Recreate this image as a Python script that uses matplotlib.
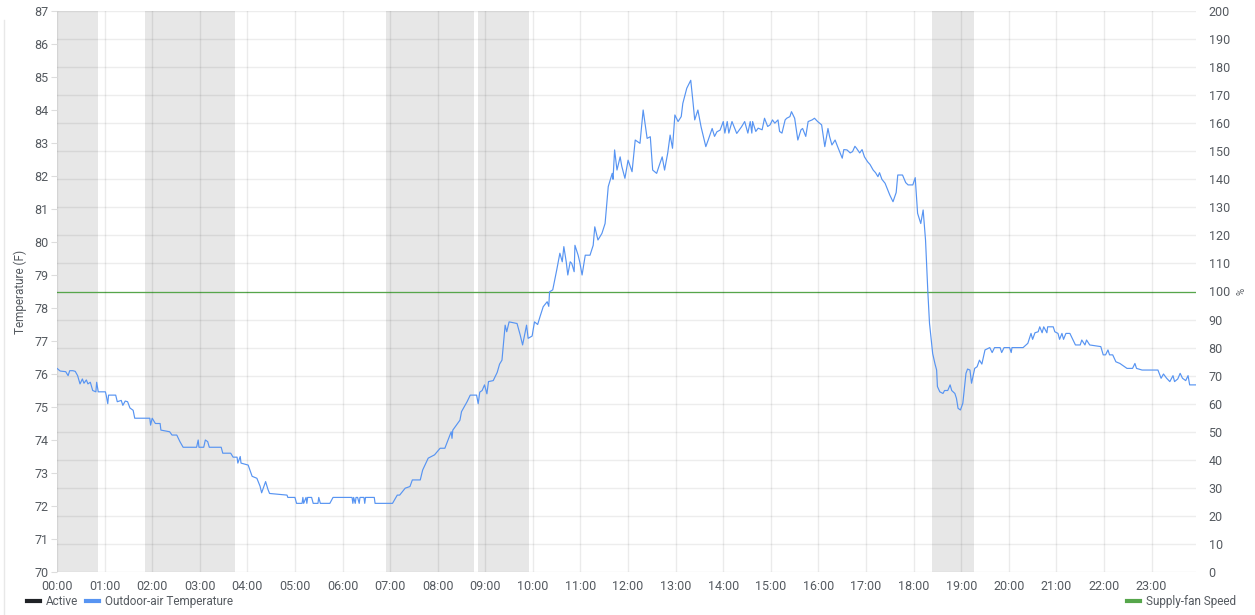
import matplotlib
matplotlib.use("Agg")
import matplotlib.pyplot as plt
from matplotlib.lines import Line2D
import numpy as np

plt.rcParams['font.family'] = ['Roboto', 'DejaVu Sans']

# ---- data -------------------------------------------------------------
# Outdoor-air temperature (F), time in minutes since 00:00
temp_minutes = [
    0, 4, 11, 14, 16, 20, 23, 26, 29, 32, 34, 37, 39, 42, 45, 49, 50, 52,
    61, 62, 64, 65, 74, 76, 81, 83, 86, 89, 92, 96, 98, 117, 118, 120, 124,
    130, 131, 142, 145, 151, 155, 159, 176, 178, 179, 185, 187, 190, 192,
    207, 209, 219, 222, 227, 228, 231, 232, 241, 246, 252, 256, 258, 263,
    266, 268, 290, 291, 300, 302, 309, 310, 311, 314, 315, 316, 321, 323,
    329, 330, 332, 344, 348, 372, 373, 374, 376, 377, 379, 381, 382, 387,
    388, 389, 400, 401, 423, 429, 432, 439, 445, 448, 458, 461, 468, 476,
    483, 489, 493, 497, 498, 499, 502, 508, 510, 517, 521, 529, 531, 533,
    536, 539, 542, 544, 550, 555, 558, 561, 565, 567, 570, 580, 584, 587,
    592, 594, 599, 602, 606, 609, 613, 618, 620, 621, 625, 630, 634, 637,
    639, 642, 644, 647, 649, 652, 653, 657, 659, 662, 666, 672, 676, 678,
    682, 687, 691, 695, 700, 701, 703, 706, 710, 712, 716, 720, 725, 729,
    735, 739, 744, 748, 751, 756, 759, 763, 766, 770, 773, 776, 779, 783,
    787, 789, 794, 799, 802, 804, 808, 812, 818, 821, 826, 829, 832, 836,
    840, 842, 845, 847, 851, 857, 863, 867, 871, 874, 876, 877, 881, 884,
    889, 892, 896, 899, 902, 905, 909, 911, 914, 918, 920, 924, 926, 930,
    934, 938, 940, 944, 947, 952, 955, 959, 964, 968, 972, 974, 977, 981,
    984, 990, 992, 996, 1000, 1003, 1006, 1008, 1012, 1015, 1018, 1022,
    1025, 1029, 1032, 1035, 1037, 1040, 1044, 1047, 1050, 1054, 1058, 1060,
    1066, 1070, 1073, 1079, 1082, 1085, 1089, 1092, 1095, 1098, 1100, 1104,
    1107, 1109, 1110, 1113, 1117, 1119, 1123, 1126, 1128, 1132, 1134, 1136,
    1139, 1142, 1146, 1148, 1151, 1153, 1157, 1160, 1163, 1166, 1170, 1176,
    1179, 1182, 1189, 1191, 1194, 1201, 1203, 1204, 1218, 1224, 1228, 1230,
    1233, 1237, 1239, 1242, 1244, 1248, 1249, 1256, 1258, 1262, 1264, 1267,
    1269, 1272, 1277, 1281, 1284, 1290, 1292, 1296, 1298, 1302, 1316, 1319,
    1322, 1325, 1327, 1331, 1335, 1340, 1349, 1356, 1359, 1361, 1368, 1388,
    1392, 1395, 1399, 1403, 1407, 1409, 1413, 1416, 1419, 1423, 1426, 1428,
    1436,
]
temp_values = [
    76.17, 76.09, 76.07, 75.95, 76.10, 76.10, 76.08, 75.95, 75.70, 75.85,
    75.72, 75.82, 75.70, 75.75, 75.50, 75.46, 75.75, 75.46,
    75.46, 75.36, 75.10, 75.36, 75.36, 75.16, 75.20, 75.05, 75.18, 75.16,
    74.97, 74.90, 74.66, 74.66, 74.45, 74.66, 74.50,
    74.50, 74.30, 74.25, 74.15, 74.15, 73.95, 73.78, 73.78, 74.00, 73.78,
    73.78, 74.00, 73.95, 73.78,
    73.78, 73.60, 73.60, 73.48, 73.48, 73.30, 73.50, 73.30, 73.24, 72.90,
    72.84, 72.60, 72.40, 72.74,
    72.50, 72.38, 72.33, 72.26, 72.26, 72.08, 72.08, 72.26, 72.08, 72.26,
    72.08, 72.26, 72.26, 72.08,
    72.08, 72.26, 72.08, 72.08, 72.26, 72.26, 72.08, 72.26, 72.08, 72.26,
    72.26, 72.08, 72.26, 72.26,
    72.08, 72.26, 72.26, 72.08, 72.08, 72.33, 72.33, 72.54, 72.59, 72.79,
    72.79, 73.09, 73.45, 73.55,
    73.75, 73.75, 74.00, 74.25, 74.05, 74.30, 74.40, 74.60, 74.86, 75.16,
    75.36, 75.36, 75.10, 75.45,
    75.50, 75.67, 75.40, 75.77, 75.80, 76.05, 76.30, 76.42, 77.48, 77.28,
    77.58, 77.53, 77.18, 76.88,
    77.48, 77.08, 77.15, 77.58, 77.50, 77.74, 78.04, 78.19, 78.05, 78.49,
    78.55, 79.15, 79.66, 79.40,
    79.86, 79.40, 79.00, 79.40, 79.35, 79.10, 79.90, 79.60, 79.40, 79.00,
    79.60, 79.60, 79.90, 80.46,
    80.06, 80.26, 80.56, 81.68, 82.08, 81.90, 82.79, 82.18, 82.58, 82.30,
    81.93, 82.48, 82.13, 83.09,
    82.99, 84.00, 83.14, 83.19, 82.18, 82.08, 82.30, 82.58, 82.18, 82.70,
    83.24, 82.84, 83.85, 83.65,
    83.80, 84.20, 84.66, 84.90, 84.20, 83.70, 84.00, 83.49, 82.89, 83.09,
    83.44, 83.20, 83.34, 83.39,
    83.65, 83.30, 83.65, 83.30, 83.65, 83.29, 83.49, 83.65, 83.30, 83.65,
    83.30, 83.65, 83.35, 83.45,
    83.40, 83.75, 83.50, 83.55, 83.70, 83.60, 83.70, 83.35, 83.30, 83.70,
    83.75, 83.80, 83.95, 83.75,
    83.09, 83.40, 83.44, 83.20, 83.65, 83.70, 83.75, 83.65, 83.55, 82.89,
    83.44, 83.20, 82.94, 83.09,
    82.90, 82.54, 82.80, 82.79, 82.70, 82.74, 82.90, 82.84, 82.70, 82.80,
    82.58, 82.43, 82.35, 82.18,
    82.10, 81.98, 82.10, 81.90, 81.78, 81.60, 81.42, 81.22, 81.50, 82.03,
    82.03, 81.80, 81.73, 81.73,
    81.95, 80.87, 80.56, 80.97, 80.06, 78.45, 77.54, 76.62, 76.30, 76.12,
    75.62, 75.46, 75.41, 75.50,
    75.50, 75.67, 75.50, 75.41, 75.26, 74.96, 74.91, 75.11, 76.02, 76.15,
    76.12, 75.72, 76.17, 76.22,
    76.42, 76.30, 76.73, 76.80, 76.65, 76.80, 76.80, 76.65, 76.80, 76.80,
    76.65, 76.80, 76.80, 76.93,
    77.23, 77.05, 77.25, 77.28, 77.43, 77.25, 77.43, 77.25, 77.43, 77.43,
    77.28, 77.23, 77.05, 77.23,
    77.05, 77.23, 77.23, 77.03, 76.88, 76.88, 77.03, 76.88, 77.03, 76.88,
    76.83, 76.58, 76.58, 76.73,
    76.58, 76.58, 76.37, 76.32, 76.17, 76.17, 76.32, 76.17, 76.12, 76.12,
    75.87, 76.00, 75.87, 75.77,
    75.95, 75.77, 75.85, 76.02, 75.87, 75.80, 75.95, 75.67,
    75.67,
]

# Supply-fan speed (%)
fan_minutes = [0, 1436]
fan_values = [100, 100]

# Active periods (start, end) in minutes
active_start = [0, 111, 415, 531, 1103]
active_end = [52, 224, 526, 595, 1156]

x_tick_labels = ["%02d:00" % h for h in range(24)]
temp_ticks = list(range(70, 88))
pct_ticks = list(range(0, 201, 10))

# ---- figure -----------------------------------------------------------
W, H = 1255, 615
fig = plt.figure(figsize=(W / 100, H / 100), dpi=100)
ax = fig.add_axes([57 / W, 1 - 572 / H, (1196 - 57) / W, (572 - 11) / H])
ax2 = ax.twinx()

text_c = "#555a60"

# ax2 (percent axis) sits underneath: shading, horizontal grid, fan line
ax2.set_zorder(1)
ax.set_zorder(2)
ax.patch.set_visible(False)

for s, e in zip(active_start, active_end):
    ax2.axvspan(s, e, color="#e7e7e7", lw=0, zorder=0)

ax2.plot(fan_minutes, fan_values, color="#56A64B", lw=0.9, zorder=3)
ax.plot(temp_minutes, temp_values, color="#5794F2", lw=0.85, zorder=3)

ax.set_xlim(0, 1436)
ax2.set_xlim(0, 1436)
ax.set_ylim(70, 87)
ax2.set_ylim(0, 200)

ax.set_xticks([h * 60 for h in range(24)])
ax.set_xticklabels(x_tick_labels)
ax.set_yticks(temp_ticks)
ax2.set_yticks(pct_ticks)

ax.grid(axis="x", color="black", alpha=0.08, lw=1.0, zorder=1)
ax2.grid(axis="y", color="black", alpha=0.07, lw=1.0, zorder=1)
ax.set_axisbelow(True)
ax2.set_axisbelow(True)

for a in (ax, ax2):
    for sp in a.spines.values():
        sp.set_visible(False)

ax.tick_params(axis="x", length=0, pad=6, labelsize=9, colors=text_c)
ax.tick_params(axis="y", length=4, width=0.8, color="#dddddd", pad=2,
               labelsize=9, colors=text_c)
ax2.tick_params(axis="y", length=0, pad=9, labelsize=9, colors=text_c)

ax.set_ylabel("Temperature (F)", fontsize=8.5, color=text_c, labelpad=5)
ax2.set_ylabel("%", fontsize=7, color=text_c, labelpad=5)

# panel border line
fig.add_artist(Line2D([4 / W, 4 / W], [0, 1 - 20 / H], color="#e8e8e8", lw=1))

# legends
h1 = [Line2D([], [], color="#202226", lw=3),
      Line2D([], [], color="#5794F2", lw=3)]
leg1 = fig.legend(h1, ["Active", "Outdoor-air Temperature"],
                  loc="lower left", bbox_to_anchor=(20 / W, 0.0),
                  ncol=2, frameon=False, fontsize=8.5, handlelength=1.1,
                  handletextpad=0.5, columnspacing=0.7, labelcolor=text_c,
                  borderaxespad=0.2)
h2 = [Line2D([], [], color="#56A64B", lw=3)]
leg2 = fig.legend(h2, ["Supply-fan Speed"], loc="lower right",
                  bbox_to_anchor=(1 - 12 / W, 0.0), frameon=False,
                  fontsize=8.5, handlelength=1.1, handletextpad=0.5,
                  labelcolor=text_c, borderaxespad=0.2)

fig.savefig("out.png", dpi=100)
